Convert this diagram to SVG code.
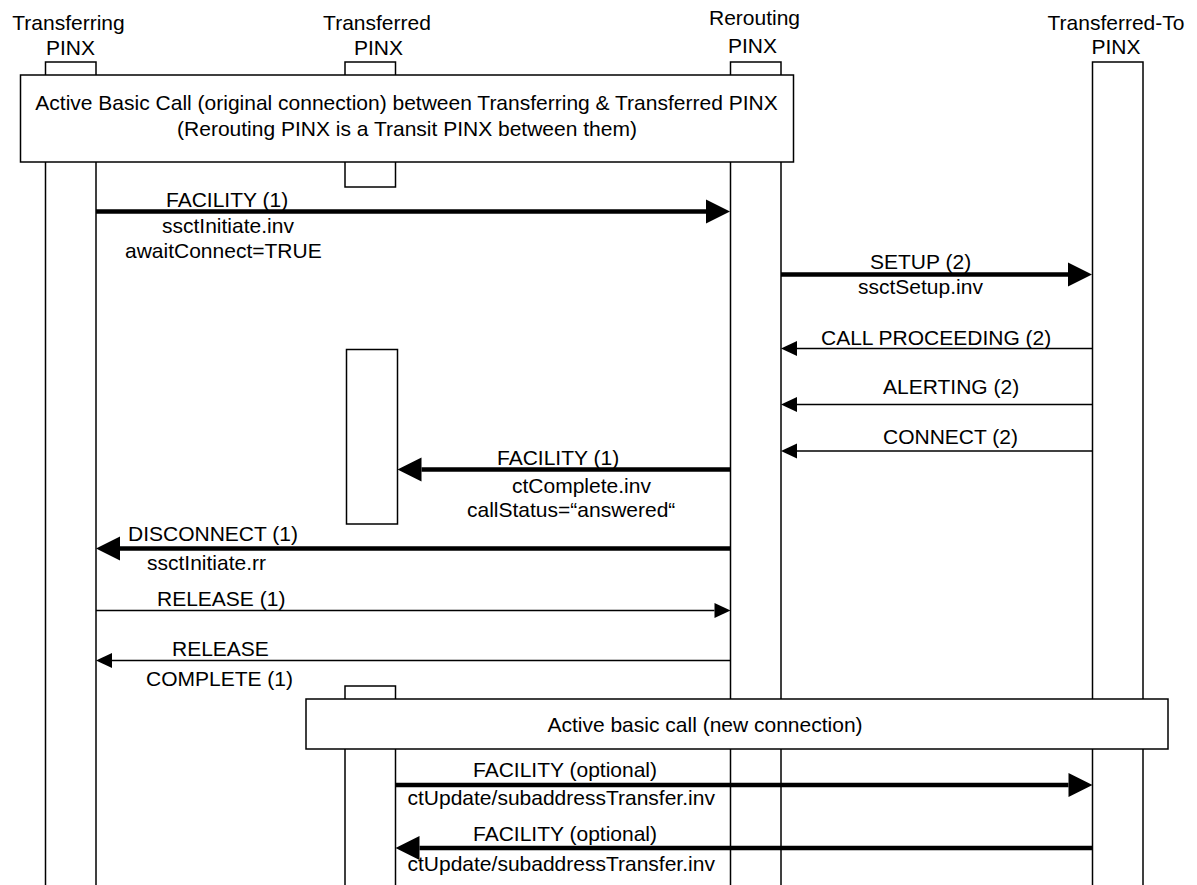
<svg xmlns="http://www.w3.org/2000/svg" width="1197" height="885" viewBox="0 0 1197 885">
<style>
text{font-family:"Liberation Sans",Arial,sans-serif;font-size:21px;fill:#000}
.c{text-anchor:middle}
.bar{fill:#fff;stroke:#000;stroke-width:1.5}
.box{fill:#fff;stroke:#000;stroke-width:1.5}
.thick{stroke:#000;stroke-width:4.5;fill:none}
.thin{stroke:#000;stroke-width:1.5;fill:none}
</style>
<defs>
<marker id="big" markerUnits="userSpaceOnUse" markerWidth="24" markerHeight="24" refX="0" refY="12" orient="auto" overflow="visible"><path d="M0,0 L24,12 L0,24 Z" fill="#000"/></marker>
<marker id="small" markerUnits="userSpaceOnUse" markerWidth="16" markerHeight="16" refX="0" refY="7.5" orient="auto" overflow="visible"><path d="M0,0 L16,7.5 L0,15 Z" fill="#000"/></marker>
</defs>
<rect width="1197" height="885" fill="#fff"/>
<g id="transferring">
<text class="c" x="68.5" y="29.5">Transferring</text>
<text class="c" x="70.5" y="54.5">PINX</text>
<rect class="bar" x="45.5" y="62" width="50.5" height="830"/>
</g>
<g id="transferred">
<text class="c" x="377" y="29.5">Transferred</text>
<text class="c" x="378.5" y="54.5">PINX</text>
<rect class="bar" x="345" y="62" width="50.5" height="20"/>
<rect class="bar" x="345" y="150" width="50.5" height="37"/>
<rect class="bar" x="346.5" y="349.5" width="51" height="174.5"/>
<rect class="bar" x="345" y="686" width="50.5" height="20"/>
<rect class="bar" x="345" y="740" width="50.5" height="152"/>
</g>
<g id="rerouting">
<text class="c" x="754.5" y="24.5">Rerouting</text>
<text class="c" x="752.5" y="53">PINX</text>
<rect class="bar" x="730.5" y="62" width="50.5" height="830"/>
</g>
<g id="transferred-to">
<text class="c" x="1116" y="30">Transferred-To</text>
<text class="c" x="1116" y="54">PINX</text>
<rect class="bar" x="1092.5" y="62" width="50.5" height="830"/>
</g>
<g id="original-call">
<rect class="box" x="20.5" y="75" width="773" height="87"/>
<text class="c" x="406.5" y="109.5">Active Basic Call (original connection) between Transferring &amp; Transferred PINX</text>
<text class="c" x="407" y="136">(Rerouting PINX is a Transit PINX between them)</text>
</g>
<g id="new-call">
<rect class="box" x="306" y="699" width="862" height="50"/>
<text class="c" x="705" y="732">Active basic call (new connection)</text>
</g>
<g id="connectors">
<line class="thick" x1="96" y1="211.5" x2="706" y2="211.5" marker-end="url(#big)"/>
<line class="thick" x1="781" y1="274.5" x2="1068" y2="274.5" marker-end="url(#big)"/>
<line class="thin" x1="1092.5" y1="348.5" x2="797" y2="348.5" marker-end="url(#small)"/>
<line class="thin" x1="1092.5" y1="404.5" x2="797" y2="404.5" marker-end="url(#small)"/>
<line class="thin" x1="1092.5" y1="451" x2="797" y2="451" marker-end="url(#small)"/>
<line class="thick" x1="730.5" y1="469.5" x2="421.5" y2="469.5" marker-end="url(#big)"/>
<line class="thick" x1="730.5" y1="548.5" x2="120" y2="548.5" marker-end="url(#big)"/>
<line class="thin" x1="96" y1="610.5" x2="714.5" y2="610.5" marker-end="url(#small)"/>
<line class="thin" x1="730.5" y1="660.5" x2="112" y2="660.5" marker-end="url(#small)"/>
<line class="thick" x1="395.5" y1="785" x2="1068.5" y2="785" marker-end="url(#big)"/>
<line class="thick" x1="1092.5" y1="848" x2="419.5" y2="848" marker-end="url(#big)"/>
</g>
<g id="labels">
<text x="166" y="207">FACILITY (1)</text>
<text x="162" y="233">ssctInitiate.inv</text>
<text x="125" y="258">awaitConnect=TRUE</text>
<text x="870" y="269">SETUP (2)</text>
<text x="858" y="294">ssctSetup.inv</text>
<text x="821" y="345">CALL PROCEEDING (2)</text>
<text x="883" y="394">ALERTING (2)</text>
<text x="883" y="444">CONNECT (2)</text>
<text x="497" y="465">FACILITY (1)</text>
<text x="512" y="493">ctComplete.inv</text>
<text x="467" y="517">callStatus=“answered“</text>
<text x="128" y="541">DISCONNECT (1)</text>
<text x="147" y="570">ssctInitiate.rr</text>
<text x="157" y="606">RELEASE (1)</text>
<text x="172" y="656">RELEASE</text>
<text x="146" y="686">COMPLETE (1)</text>
<text x="473" y="777">FACILITY (optional)</text>
<text x="407.5" y="805">ctUpdate/subaddressTransfer.inv</text>
<text x="473" y="841">FACILITY (optional)</text>
<text x="407.5" y="871">ctUpdate/subaddressTransfer.inv</text>
</g>
</svg>
